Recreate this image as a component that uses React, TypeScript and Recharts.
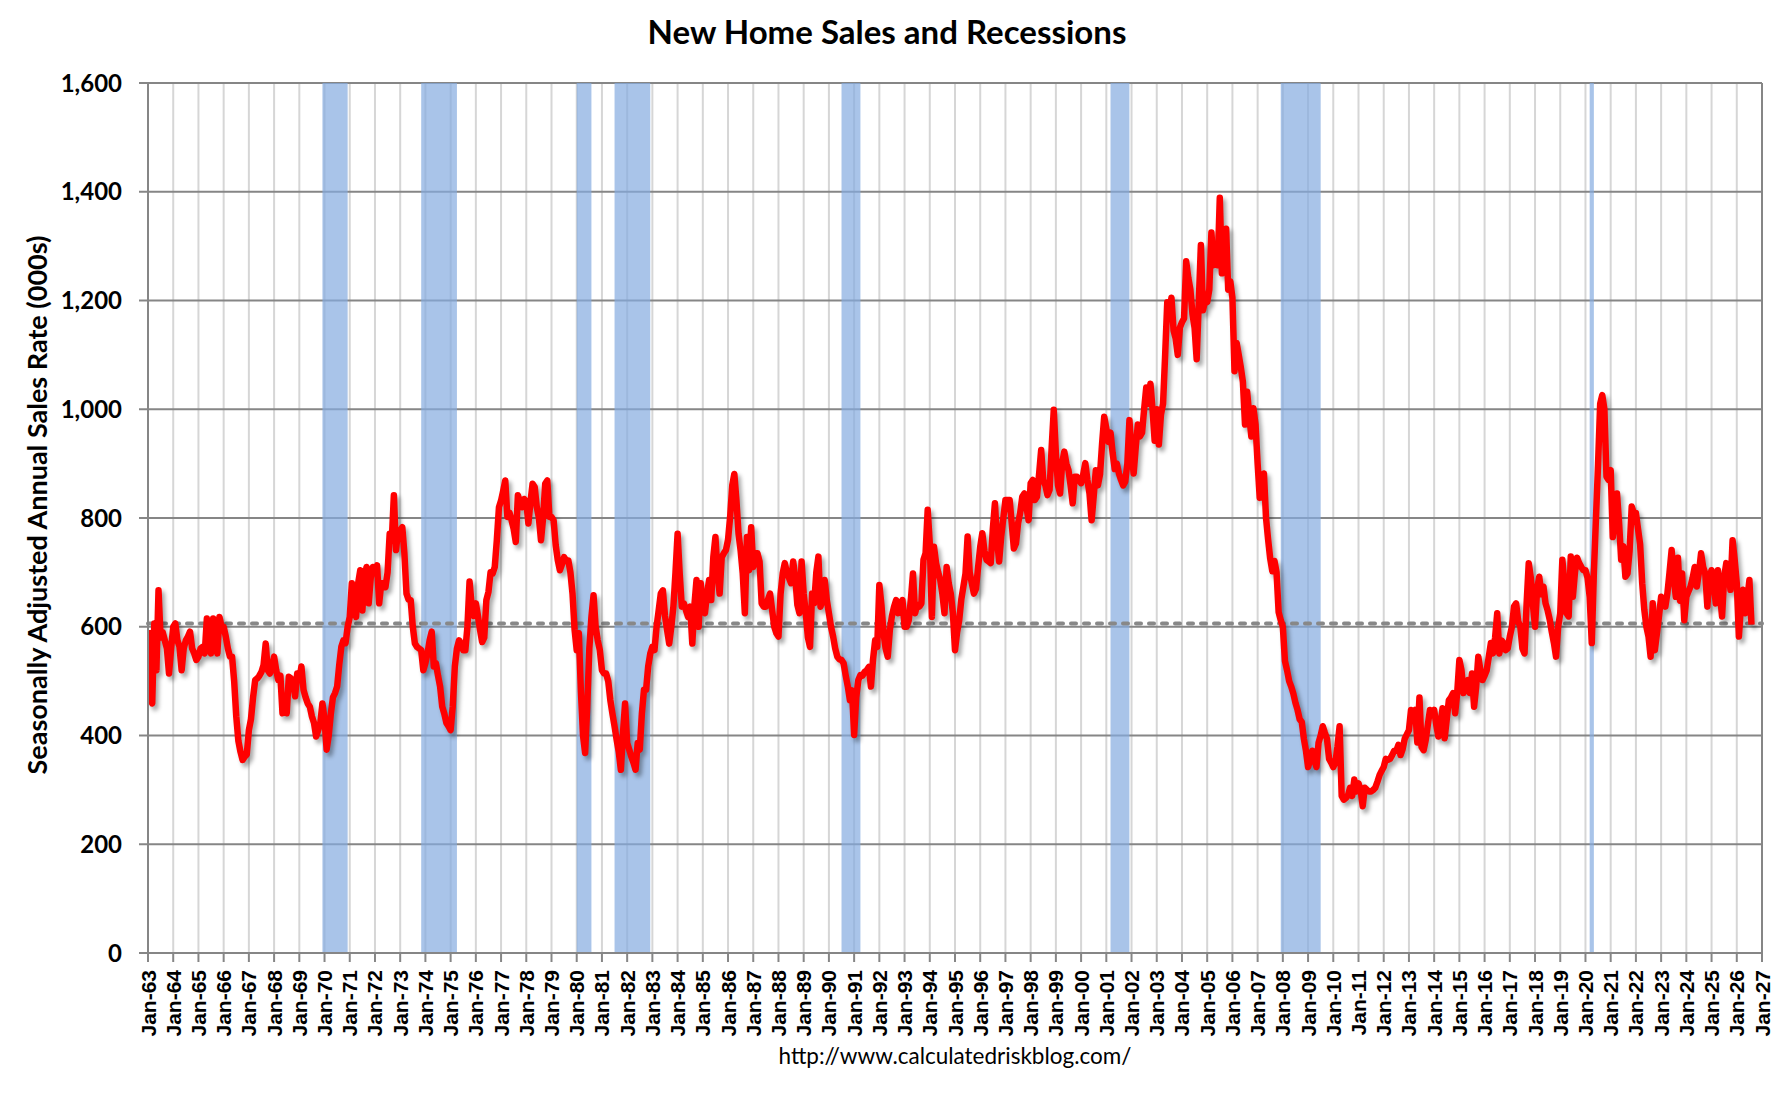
import { LineChart, Line, XAxis, YAxis, CartesianGrid, ReferenceArea, ReferenceLine } from 'recharts'

// Monthly new home sales, SAAR (000s). First value is Jan 1963.
const START_YEAR = 1963

const sales1960s = [
  594, 470, 459, 606, 520, 667, 580, 590, 575, 560, 514, 560,
  600, 606, 575, 563, 520, 560, 575, 582, 591, 560, 551, 539,
  545, 560, 563, 551, 615, 580, 551, 615, 580, 551, 618, 600,
  600, 582, 560, 545, 545, 500, 435, 390, 370, 355, 361, 365,
  410, 430, 470, 502, 505, 510, 517, 530, 569, 520, 514, 525,
  545, 520, 502, 510, 441, 460, 441, 508, 505, 500, 472, 514,
  502, 527, 484, 470, 459, 453, 435, 423, 398, 410, 423, 459,
]

const sales1970s = [
  430, 374, 400, 440, 470, 478, 490, 530, 563, 575, 570, 600,
  618, 680, 640, 618, 680, 704, 630, 690, 710, 643, 690, 710,
  700, 713, 643, 680, 680, 673, 700, 771, 759, 842, 741, 777,
  777, 783, 735, 661, 650, 649, 600, 569, 563, 560, 557, 520,
  533, 551, 575, 591, 527, 533, 510, 490, 453, 440, 423, 417,
  410, 453, 527, 560, 575, 569, 557, 557, 600, 683, 640, 620,
  643, 620, 594, 572, 580, 649, 664, 700, 698, 710, 760, 820,
  832, 850, 869, 802, 810, 796, 780, 756, 842, 830, 820, 835,
  830, 790, 830, 863, 857, 820, 800, 759, 800, 863, 869, 802,
  802, 796, 750, 722, 704, 715, 728, 722, 722, 700, 661, 594,
]

const sales1980s = [
  557, 588, 480, 400, 368, 453, 560, 618, 658, 600, 575, 557,
  520, 514, 514, 500, 465, 440, 417, 392, 370, 337, 404, 459,
  386, 374, 361, 350, 337, 386, 374, 440, 484, 484, 527, 551,
  563, 557, 600, 630, 661, 667, 620, 594, 569, 600, 637, 700,
  771, 698, 637, 643, 630, 618, 637, 569, 640, 686, 600, 680,
  637, 625, 660, 686, 649, 728, 765, 700, 661, 728, 735, 741,
  760, 802, 860, 881, 832, 771, 740, 698, 625, 765, 704, 783,
  710, 735, 735, 720, 643, 637, 637, 650, 661, 630, 600, 588,
  582, 660, 698, 717, 700, 690, 680, 720, 690, 640, 625, 720,
  661, 625, 580, 563, 661, 643, 700, 729, 637, 650, 686, 649,
]

const sales1990s = [
  625, 600, 582, 560, 545, 540, 539, 533, 510, 490, 465, 483,
  401, 470, 502, 511, 510, 517, 520, 526, 490, 540, 575, 563,
  677, 640, 588, 560, 545, 594, 620, 637, 649, 625, 640, 649,
  600, 600, 612, 650, 698, 625, 640, 637, 643, 723, 735, 815,
  753, 618, 747, 717, 700, 686, 660, 625, 710, 680, 661, 625,
  557, 590, 612, 650, 674, 698, 766, 700, 680, 661, 670, 710,
  747, 772, 740, 723, 720, 717, 780, 827, 760, 720, 766, 800,
  833, 833, 833, 790, 744, 753, 790, 809, 839, 845, 820, 796,
  864, 870, 833, 839, 880, 925, 870, 860, 842, 852, 930, 999,
  919, 860, 845, 901, 922, 900, 888, 860, 827, 876, 876, 870,
]

const sales2000s = [
  864, 880, 901, 870, 845, 796, 840, 888, 860, 880, 937, 986,
  965, 940, 957, 920, 890, 900, 882, 870, 860, 867, 900, 980,
  920, 882, 930, 972, 950, 957, 1000, 1040, 1010, 1047, 1000, 942,
  1000, 935, 990, 1010, 1100, 1197, 1180, 1205, 1145, 1130, 1100, 1150,
  1160, 1167, 1272, 1242, 1220, 1175, 1150, 1092, 1197, 1302, 1182, 1200,
  1197, 1220, 1325, 1265, 1280, 1265, 1389, 1250, 1290, 1332, 1220, 1235,
  1205, 1070, 1122, 1100, 1077, 1050, 972, 1032, 990, 950, 1002, 972,
  900, 837, 860, 882, 800, 760, 725, 702, 721, 700, 627, 612,
  600, 537, 520, 500, 490, 477, 460, 447, 430, 425, 394, 372,
  342, 355, 372, 355, 342, 387, 400, 417, 405, 394, 357, 350,
]

const sales2010s = [
  342, 350, 380, 417, 289, 282, 285, 290, 304, 289, 319, 297,
  312, 300, 270, 304, 300, 297, 297, 300, 304, 315, 327, 335,
  342, 357, 355, 357, 364, 372, 372, 383, 364, 375, 394, 402,
  410, 447, 440, 447, 387, 470, 379, 373, 392, 420, 447, 440,
  447, 420, 398, 420, 450, 395, 430, 465, 470, 478, 441, 480,
  539, 520, 478, 495, 502, 478, 514, 453, 490, 545, 520, 502,
  510, 520, 545, 570, 551, 580, 625, 551, 575, 570, 557, 560,
  582, 600, 637, 643, 610, 600, 560, 551, 643, 717, 690, 640,
  600, 670, 692, 660, 674, 643, 630, 613, 590, 570, 545, 600,
  625, 723, 680, 625, 619, 729, 655, 700, 727, 717, 710, 704,
]

const sales2020s = [
  704, 690, 655, 570, 700, 800, 900, 1010, 1026, 1000, 876, 870,
  888, 765, 800, 845, 790, 723, 748, 692, 698, 740, 821, 809,
  809, 780, 752, 680, 631, 600, 582, 545, 643, 557, 588, 620,
  655, 645, 637, 662, 700, 741, 690, 655, 727, 648, 698, 612,
  655, 665, 674, 690, 710, 674, 700, 735, 710, 698, 637, 690,
  704, 680, 643, 704, 660, 619, 692, 717, 700, 668, 759, 723,
  680, 582, 640, 668, 625, 650, 686, 604,
]

// NBER recessions as [start, end) in fractional years
const recessions: [number, number][] = [
  [1969 + 11 / 12, 1970 + 11 / 12],
  [1973 + 10 / 12, 1975 + 3 / 12],
  [1980, 1980 + 7 / 12],
  [1981 + 6 / 12, 1982 + 11 / 12],
  [1990 + 6 / 12, 1991 + 3 / 12],
  [2001 + 2 / 12, 2001 + 11 / 12],
  [2007 + 11 / 12, 2009 + 6 / 12],
  [2020 + 2 / 12, 2020 + 4 / 12],
]

const AVERAGE = 606
const yearTicks = Array.from({ length: 65 }, (_, i) => START_YEAR + i)
const valueTicks = [0, 200, 400, 600, 800, 1000, 1200, 1400, 1600]

const data = [...sales1960s, ...sales1970s, ...sales1980s, ...sales1990s, ...sales2000s, ...sales2010s, ...sales2020s]
  .map((v, i) => ({ t: START_YEAR + i / 12, v }))

const CALIBRI = "Lato, 'Open Sans', sans-serif"
const ARIAL = "'Liberation Sans', Arial, sans-serif"
const AXIS_GRAY = '#868686'

function YearTick({ x, y, payload }: any) {
  return (
    <text
      x={x}
      y={y}
      transform={`rotate(-90, ${x}, ${y})`}
      textAnchor="end"
      dominantBaseline="central"
      fontFamily={ARIAL}
      fontWeight={700}
      fontSize={21}
      fill="#000"
    >
      {`Jan-${String(payload.value).slice(2)}`}
    </text>
  )
}

export default function App() {
  return (
    <div style={{ position: 'relative', width: 1780, height: 1094, background: '#fff' }}>
      <style>{`
        body { margin: 0; }
        .sales-line .recharts-line-curve {
          filter: drop-shadow(3px 4px 2px rgba(0,0,0,0.35));
          stroke-linejoin: round;
        }
      `}</style>
      <div
        style={{
          position: 'absolute', left: 887, top: 31, transform: 'translate(-50%, -50%)',
          whiteSpace: 'nowrap', fontFamily: CALIBRI, fontWeight: 700, fontSize: 33, color: '#000',
        }}
      >
        New Home Sales and Recessions
      </div>
      <div
        style={{
          position: 'absolute', left: 36, top: 505, transform: 'translate(-50%, -50%) rotate(-90deg)',
          whiteSpace: 'nowrap', fontFamily: CALIBRI, fontWeight: 700, fontSize: 27, color: '#000',
        }}
      >
        Seasonally Adjusted Annual Sales Rate (000s)
      </div>
      <div
        style={{
          position: 'absolute', left: 955, top: 1055, transform: 'translate(-50%, -50%)',
          whiteSpace: 'nowrap', fontFamily: CALIBRI, fontSize: 22.5, color: '#000',
        }}
      >
        http://www.calculatedriskblog.com/
      </div>
      <LineChart
        width={1780}
        height={1094}
        data={data}
        margin={{ top: 83, right: 18, bottom: 61, left: 48 }}
        style={{ position: 'absolute', left: 0, top: 0 }}
      >
        <CartesianGrid horizontal={false} stroke="#d6d6d6" strokeWidth={2} />
        <CartesianGrid vertical={false} stroke={AXIS_GRAY} strokeWidth={2} />
        {recessions.map(([a, b]) => (
          <ReferenceArea
            key={a}
            x1={a}
            x2={b}
            y1={0}
            y2={1600}
            fill="#84abe0"
            fillOpacity={0.7}
            stroke="none"
          />
        ))}
        <ReferenceLine x={2027} stroke={AXIS_GRAY} strokeWidth={2} />
        <ReferenceLine
          y={AVERAGE}
          stroke="#888888"
          strokeWidth={4}
          strokeDasharray="5 8"
          strokeLinecap="round"
        />
        <XAxis
          dataKey="t"
          type="number"
          domain={[1963, 2027]}
          ticks={yearTicks}
          interval={0}
          height={80}
          tickSize={9}
          tickMargin={8}
          tick={<YearTick />}
          axisLine={{ stroke: AXIS_GRAY, strokeWidth: 2 }}
          tickLine={{ stroke: AXIS_GRAY, strokeWidth: 2 }}
          allowDataOverflow
        />
        <YAxis
          domain={[0, 1600]}
          ticks={valueTicks}
          width={100}
          tickSize={9}
          tickMargin={17}
          tickFormatter={(n: number) => n.toLocaleString('en-US')}
          tick={{ fill: '#000', fontSize: 24, fontWeight: 700, fontFamily: CALIBRI }}
          axisLine={{ stroke: AXIS_GRAY, strokeWidth: 2 }}
          tickLine={{ stroke: AXIS_GRAY, strokeWidth: 2 }}
        />
        <Line
          className="sales-line"
          type="linear"
          dataKey="v"
          stroke="#ff0000"
          strokeWidth={6.5}
          dot={false}
          activeDot={false}
          isAnimationActive={false}
        />
      </LineChart>
    </div>
  )
}
